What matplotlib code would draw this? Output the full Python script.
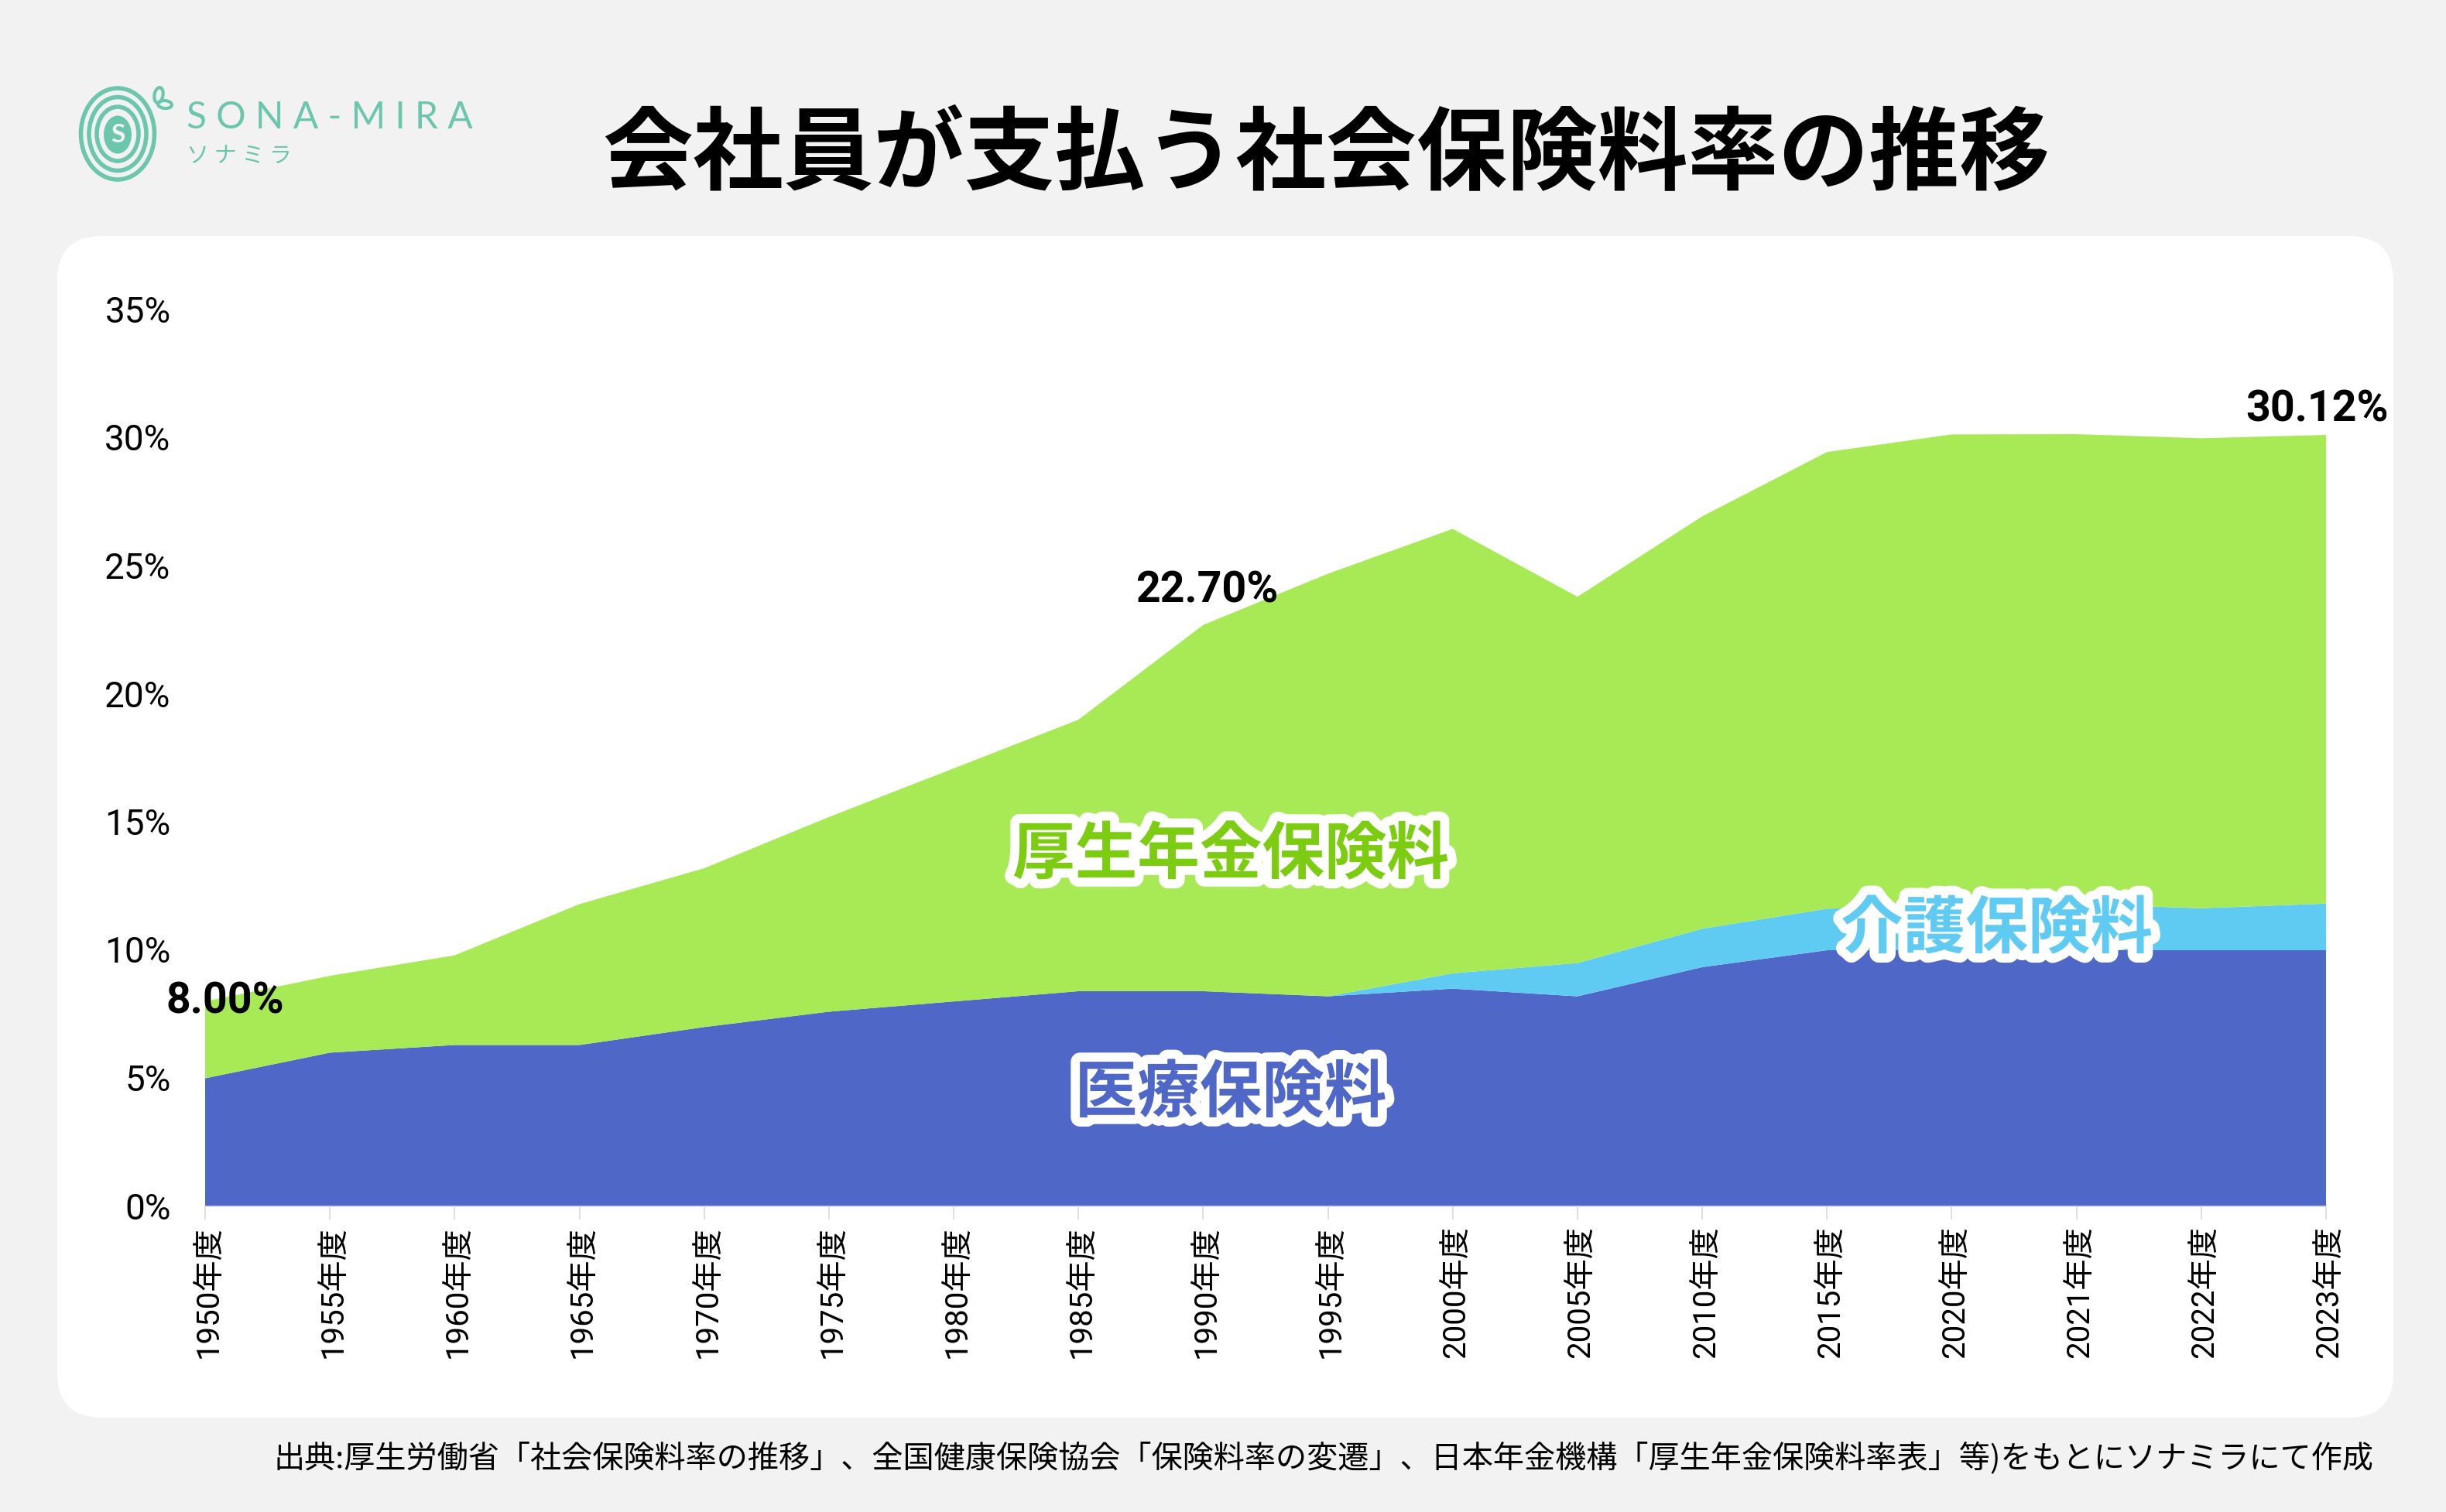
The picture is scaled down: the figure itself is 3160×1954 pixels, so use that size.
import matplotlib
matplotlib.use('Agg')
import matplotlib.pyplot as plt
import matplotlib.patheffects as pe
from matplotlib.patches import FancyBboxPatch, Ellipse
from matplotlib.transforms import ScaledTranslation

W, H = 3160, 1954
DIGIT_FONT = ['Roboto', 'Noto Sans CJK JP']
JP_FONT = ['Noto Sans CJK JP', 'DejaVu Sans']

years = ['1950', '1955', '1960', '1965', '1970', '1975', '1980', '1985', '1990',
         '1995', '2000', '2005', '2010', '2015', '2020', '2021', '2022', '2023']
medical = [5.0, 6.0, 6.3, 6.3, 7.0, 7.6, 8.0, 8.4, 8.4,
           8.2, 8.5, 8.2, 9.34, 10.0, 10.0, 10.0, 10.0, 10.0]
care = [0, 0, 0, 0, 0, 0, 0, 0, 0,
        0, 0.6, 1.3, 1.5, 1.62, 1.79, 1.80, 1.64, 1.82]
pension = [3.0, 3.0, 3.5, 5.5, 6.2, 7.6, 9.1, 10.6, 14.3,
           16.5, 17.35, 14.3, 16.1, 17.83, 18.35, 18.35, 18.35, 18.3]
y_ticks = [0, 5, 10, 15, 20, 25, 30, 35]

BLUE = '#4f67c7'
SKY = '#5fcbf3'
GREEN = '#a8ea55'
TEAL = '#6cc6ae'


def fx(px):
    return px / W


def fy(py):
    return 1 - py / H


def outlined(ax, x, y, text, color, size):
    ax.text(x, y, text, color=color, fontsize=size, fontweight='bold', family=JP_FONT,
            ha='center', va='center', zorder=5,
            path_effects=[pe.withStroke(linewidth=8.5, foreground='white')])


def draw_logo(fig):
    # Logo drawn in pixel coordinates on an overlay axes
    lx = fig.add_axes([0, 0, 1, 1], zorder=3)
    lx.set_xlim(0, W)
    lx.set_ylim(H, 0)
    lx.axis('off')
    for w, h in [(95, 118), (74, 95), (54, 70)]:
        lx.add_patch(Ellipse((152, 173), w, h, fill=False, ec=TEAL, lw=2.0))
    lx.add_patch(Ellipse((152, 174), 36, 49, fc=TEAL, ec='none'))
    lx.text(152, 174, 'S', color='#f2f2f2', fontsize=12, fontweight='bold', ha='center', va='center',
            family='Lato')
    lx.add_patch(Ellipse((205, 123), 11, 20, angle=10, fill=False, ec=TEAL, lw=1.5))
    lx.add_patch(Ellipse((213, 135), 18, 10, angle=5, fill=False, ec=TEAL, lw=1.5))
    lx.text(241, 152, 'S O N A - M I R A', color=TEAL, fontsize=17.3, family='Lato',
            ha='left', va='center')
    lx.text(241, 202, 'ソ ナ ミ ラ', color=TEAL, fontsize=10.5, family=JP_FONT,
            ha='left', va='center')


def main():
    fig = plt.figure(figsize=(W / 200, H / 200), dpi=200, facecolor='#f2f2f2')

    # White rounded card behind the chart
    card = FancyBboxPatch((74, 305), 3018, 1527, boxstyle='round,pad=0,rounding_size=58',
                          fc='white', ec='none', zorder=-1)
    card.set_transform(matplotlib.transforms.Affine2D().scale(1, -1).translate(0, H))
    fig.add_artist(card)

    ax = fig.add_axes([fx(265), fy(1559), fx(2740), 35 * 33.1 / H])
    ax.patch.set_alpha(0)
    x = list(range(len(years)))
    ax.stackplot(x, medical, care, pension, colors=[BLUE, SKY, GREEN], linewidth=0)
    ax.set_xlim(0, len(years) - 1)
    ax.set_ylim(0, 35)

    for side in ['top', 'right', 'left']:
        ax.spines[side].set_visible(False)
    ax.spines['bottom'].set_color('#d9d9d9')
    ax.spines['bottom'].set_linewidth(0.6)

    ax.set_xticks(x)
    ax.set_xticklabels([f'{y}年度' for y in years], rotation=90, fontsize=14.5,
                       family=DIGIT_FONT, ha='center', va='top')
    ax.tick_params(axis='x', length=6, width=0.6, color='#d9d9d9', pad=3)
    ax.set_yticks(y_ticks)
    ax.set_yticklabels([f'{v}%' for v in y_ticks], fontsize=16.5, family=DIGIT_FONT)
    ax.tick_params(axis='y', length=0, pad=16)

    # Nudge tick labels a little, they sit off the tick in the source
    shift_x = ScaledTranslation(4 / 200, 0, fig.dpi_scale_trans)
    shift_y = ScaledTranslation(0, 1 / 200, fig.dpi_scale_trans)
    for lab in ax.get_xticklabels():
        lab.set_transform(lab.get_transform() + shift_x)
    for lab in ax.get_yticklabels():
        lab.set_transform(lab.get_transform() + shift_y)

    # Total labels at three years
    for i, txt, ha, dx, dy in [(0, '8.00%', 'center', 0.16, 0.0),
                               (8, '22.70%', 'center', 0.03, 0.55),
                               (17, '30.12%', 'right', 0.5, 0.2)]:
        total = medical[i] + care[i] + pension[i]
        ax.text(i + dx, total + dy, txt, fontsize=20, fontweight='bold', family=DIGIT_FONT,
                ha=ha, va='bottom' if i else 'center', clip_on=False, zorder=6, color='black')

    outlined(ax, 8.22, 13.7, '厚生年金保険料', '#7ccc12', 29)
    outlined(ax, 8.22, 4.4, '医療保険料', BLUE, 29)
    outlined(ax, 14.36, 10.8, '介護保険料', SKY, 29)

    fig.text(fx(1713), fy(202), '会社員が支払う社会保険料率の推移', fontsize=42.1, fontweight='bold',
             family=JP_FONT, ha='center', va='center', color='black')
    fig.text(fx(3066), fy(1884),
             '出典:厚生労働省「社会保険料率の推移」、全国健康保険協会「保険料率の変遷」、'
             '日本年金機構「厚生年金保険料率表」等)をもとにソナミラにて作成',
             fontsize=14.46, family=JP_FONT, ha='right', va='center', color='black')

    draw_logo(fig)
    fig.savefig('out.png', dpi=200, facecolor=fig.get_facecolor())


if __name__ == '__main__':
    main()
